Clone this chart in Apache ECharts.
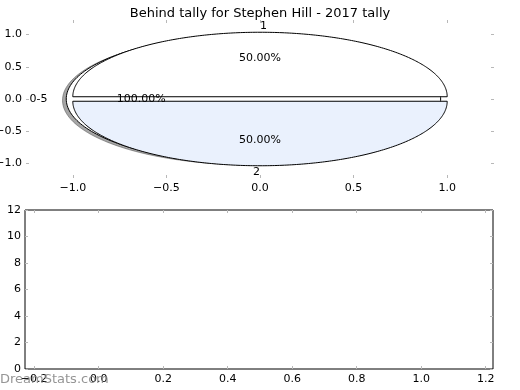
<!DOCTYPE html>
<html>
<head>
<meta charset="utf-8">
<script src="https://cdn.jsdelivr.net/npm/echarts@6/dist/echarts.min.js"></script>
<style>html,body{margin:0;padding:0;background:#fff}#c{width:520px;height:390px}</style>
</head>
<body>
<div id="c"></div>
<script>
const chartTitle = 'Behind tally for Stephen Hill - 2017 tally';
const outerLabels = ['1', '2'];
const outerValues = [1, 1];
const outerColors = ['#ffffff', '#eaf1fd'];
const innerLabels = ['0-5'];
const innerValues = [1];
const innerColors = ['#ffffff'];
const pieXTicks = [-1.0, -0.5, 0.0, 0.5, 1.0];
const pieYTicks = [-1.0, -0.5, 0.0, 0.5, 1.0];
const barXTicks = [-0.2, 0.0, 0.2, 0.4, 0.6, 0.8, 1.0, 1.2];
const barYTicks = [0, 2, 4, 6, 8, 10, 12];
const watermark = 'DreamStats.com';

const EXPLODE = 0.035;
const FONT = '11px "DejaVu Sans"';

function buildWedges(labels, values, colors, shadow) {
  const total = values.reduce((a, b) => a + b, 0);
  let acc = 0;
  return values.map((v, i) => {
    const a1 = acc / total * 360;
    acc += v;
    const a2 = acc / total * 360;
    const mid = (a1 + a2) / 2 * Math.PI / 180;
    const cx = EXPLODE * Math.cos(mid), cy = EXPLODE * Math.sin(mid);
    return { a1, a2, cx, cy, mid, color: colors[i], shadow, label: labels[i], pct: (v / total * 100).toFixed(2) + '%' };
  });
}
const wedges = buildWedges(innerLabels, innerValues, innerColors, true)
  .concat(buildWedges(outerLabels, outerValues, outerColors, false));

const labelItems = [];
wedges.forEach(w => {
  const lx = w.cx + 1.1 * Math.cos(w.mid), ly = w.cy + 1.1 * Math.sin(w.mid);
  labelItems.push({ x: lx, y: ly, text: w.label, align: lx > 0 ? 'left' : 'right' });
  labelItems.push({ x: w.cx + 0.6 * Math.cos(w.mid), y: w.cy + 0.6 * Math.sin(w.mid), text: w.pct, align: 'center' });
});

function wedgePoints(api, w, ox, oy) {
  const full = (w.a2 - w.a1) >= 359.999;
  const pts = [];
  if (!full) pts.push(api.coord([w.cx + ox, w.cy + oy]));
  const n = 240;
  for (let k = 0; k <= n; k++) {
    const t = (w.a1 + (w.a2 - w.a1) * k / n) * Math.PI / 180;
    pts.push(api.coord([w.cx + ox + Math.cos(t), w.cy + oy + Math.sin(t)]));
  }
  return pts;
}

function renderWedge(params, api) {
  const w = wedges[params.dataIndex];
  const children = [];
  if (w.shadow) {
    children.push({ type: 'polygon', shape: { points: wedgePoints(api, w, -0.02, -0.02) },
      style: { fill: 'rgba(77,77,77,0.5)', stroke: 'rgba(77,77,77,0.5)', lineWidth: 1 } });
  }
  children.push({ type: 'polygon', shape: { points: wedgePoints(api, w, 0, 0) },
    style: { fill: w.color, stroke: '#000', lineWidth: 1 } });
  return { type: 'group', children };
}

function renderLabel(params, api) {
  const it = labelItems[params.dataIndex];
  const p = api.coord([it.x, it.y]);
  return { type: 'text', x: p[0], y: p[1],
    style: { text: it.text, fill: '#000', font: FONT, align: it.align, textAlign: it.align,
      verticalAlign: 'middle', textVerticalAlign: 'middle' } };
}

const fmt1 = v => (v < 0 ? '\u2212' : '') + Math.abs(v).toFixed(1);
const tickStyle = { show: true, inside: true, length: 3, lineStyle: { color: '#b8b8b8', width: 1 } };

function axis(grid, pos, min, max, ticks, fmt, showLabel, margin) {
  return {
    type: 'value', gridIndex: grid, position: pos, min, max,
    axisLine: { show: false, onZero: false },
    axisTick: Object.assign({ customValues: ticks }, tickStyle),
    splitLine: { show: false },
    axisLabel: { show: showLabel, customValues: ticks, formatter: fmt, color: '#000',
      fontFamily: 'DejaVu Sans', fontSize: 11, margin: margin }
  };
}

const chart = echarts.init(document.getElementById('c'), null, { renderer: 'canvas' });
chart.setOption({
  animation: false,
  backgroundColor: '#fff',
  title: { text: chartTitle, left: 'center', top: 2,
    textStyle: { fontFamily: 'DejaVu Sans', fontSize: 13, fontWeight: 'normal', color: '#000' } },
  grid: [
    { left: 26, top: 20, width: 468, height: 158, show: false, containLabel: false, outerBoundsMode: 'none' },
    { left: 25, top: 210, width: 468, height: 159, show: true, borderColor: '#000', borderWidth: 1,
      backgroundColor: 'transparent', containLabel: false, outerBoundsMode: 'none' }
  ],
  xAxis: [
    axis(0, 'bottom', -1.25, 1.25, pieXTicks, fmt1, true, 5),
    axis(0, 'top', -1.25, 1.25, pieXTicks, fmt1, false, 5),
    axis(1, 'bottom', -0.2285, 1.2226, barXTicks, fmt1, true, 5),
    axis(1, 'top', -0.2285, 1.2226, barXTicks, fmt1, false, 5)
  ],
  yAxis: [
    axis(0, 'left', -1.225, 1.225, pieYTicks, fmt1, true, 4),
    axis(0, 'right', -1.225, 1.225, pieYTicks, fmt1, false, 4),
    axis(1, 'left', 0, 12, barYTicks, v => String(v), true, 4),
    axis(1, 'right', 0, 12, barYTicks, v => String(v), false, 4)
  ],
  series: [
    { type: 'custom', xAxisIndex: 0, yAxisIndex: 0, clip: false, silent: true, z: 2,
      data: wedges.map((w, i) => [i, 0]), encode: { x: 0, y: 1 }, renderItem: renderWedge },
    { type: 'custom', xAxisIndex: 0, yAxisIndex: 0, clip: false, silent: true, z: 5,
      data: labelItems.map((l, i) => [i, 0]), encode: { x: 0, y: 1 }, renderItem: renderLabel }
  ],
  graphic: [
    { type: 'text', left: 0, top: 373, z: 100,
      style: { text: watermark, fill: 'rgba(130,130,130,0.85)', font: '13px "DejaVu Sans"' } }
  ]
});
</script>
</body>
</html>
